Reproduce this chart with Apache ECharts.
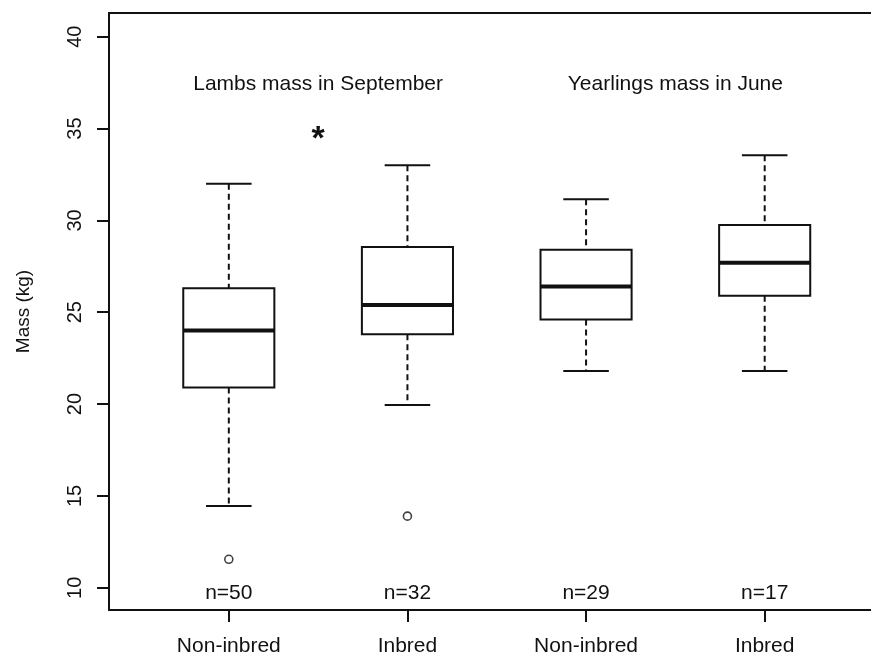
<!DOCTYPE html>
<html><head><meta charset="utf-8">
<script src="https://cdn.jsdelivr.net/npm/echarts@6/dist/echarts.min.js"></script>
<style>html,body{margin:0;padding:0;background:#fff}#c{width:871px;height:658px}</style>
</head><body><div id="c"></div>
<script>
// ---- data ----
const categories = ['Non-inbred', 'Inbred', 'Non-inbred', 'Inbred'];
const whiskerLow  = [14.45, 19.95, 21.8, 21.8];
const q1          = [20.9, 23.8, 24.6, 25.9];
const median      = [24.0, 25.4, 26.4, 27.7];
const q3          = [26.3, 28.55, 28.4, 29.75];
const whiskerHigh = [32.0, 33.0, 31.15, 33.55];
const outliers    = [[0, 11.55], [1, 13.9]];
const nCounts     = [50, 32, 29, 17];
const yTicks      = [10, 15, 20, 25, 30, 35, 40];
const groupTitles = ['Lambs mass in September', 'Yearlings mass in June'];
const yTitle = 'Mass (kg)';

const FONT = '"Liberation Sans", Arial, Helvetica, sans-serif';
const INK = '#111';
const Y_MIN = 8.79, Y_MAX = 41.29;

const boxData = categories.map((c, i) => [i, whiskerLow[i], q1[i], median[i], q3[i], whiskerHigh[i], nCounts[i]]);

function renderBox(params, api) {
  const i = api.value(0);
  const band = api.size([1, 0])[0];
  const cx = api.coord([i, Y_MIN])[0];
  const y = k => api.coord([i, api.value(k)])[1];
  const yLo = y(1), yQ1 = y(2), yMed = y(3), yQ3 = y(4), yHi = y(5);
  const bw = band * 0.51 / 2, cw = band * 0.255 / 2;
  const nPos = api.coord([i, 9.72]);
  const dash = { stroke: INK, lineWidth: 2, lineDash: [6, 4] };
  const solid = { stroke: INK, lineWidth: 2 };
  return { type: 'group', children: [
    { type: 'line', shape: { x1: cx, y1: yHi, x2: cx, y2: yQ3 }, style: dash },
    { type: 'line', shape: { x1: cx, y1: yQ1, x2: cx, y2: yLo }, style: dash },
    { type: 'line', shape: { x1: cx - cw, y1: yHi, x2: cx + cw, y2: yHi }, style: solid },
    { type: 'line', shape: { x1: cx - cw, y1: yLo, x2: cx + cw, y2: yLo }, style: solid },
    { type: 'rect', shape: { x: cx - bw, y: yQ3, width: 2 * bw, height: yQ1 - yQ3 }, style: { fill: '#fff', stroke: INK, lineWidth: 2 } },
    { type: 'line', shape: { x1: cx - bw, y1: yMed, x2: cx + bw, y2: yMed }, style: { stroke: INK, lineWidth: 4 } },
    { type: 'text', style: { text: 'n=' + api.value(6), x: nPos[0], y: nPos[1], align: 'center', verticalAlign: 'middle', fontSize: 21, fontFamily: FONT, fill: INK } }
  ] };
}

function renderNote(params, api) {
  const p = api.coord([api.value(0), api.value(1)]);
  const kind = api.value(2);
  if (kind < 0) {
    return { type: 'text', style: { text: '*', x: p[0], y: p[1] + 9, align: 'center', verticalAlign: 'middle', fontSize: 34, fontWeight: 'bold', fontFamily: FONT, fill: INK } };
  }
  return { type: 'text', style: { text: groupTitles[kind], x: p[0], y: p[1], align: 'center', verticalAlign: 'middle', fontSize: 21, fontFamily: FONT, fill: INK } };
}

const frameLine = { show: true, lineStyle: { color: INK, width: 2 } };

const chart = echarts.init(document.getElementById('c'), null, { renderer: 'canvas' });
chart.setOption({
  animation: false,
  backgroundColor: '#fff',
  grid: [
    { left: 139.5, right: 17, top: 13, bottom: 48, show: false },
    { left: 109, right: 0, top: 13, bottom: 48, show: false }
  ],
  xAxis: [
    { type: 'category', gridIndex: 0, data: categories, boundaryGap: true,
      axisLine: { show: false },
      axisTick: { show: true, alignWithLabel: true, length: 12, lineStyle: { color: INK, width: 2 } },
      axisLabel: { interval: 0, margin: 26, fontSize: 21, fontFamily: FONT, color: INK },
      splitLine: { show: false } },
    { type: 'value', gridIndex: 1, position: 'bottom', min: 0, max: 1,
      axisLine: frameLine, axisTick: { show: false }, axisLabel: { show: false }, splitLine: { show: false } },
    { type: 'value', gridIndex: 0, show: false, min: -0.5, max: 3.5 },
    { type: 'value', gridIndex: 1, position: 'top', min: 0, max: 1,
      axisLine: frameLine, axisTick: { show: false }, axisLabel: { show: false }, splitLine: { show: false } }
  ],
  yAxis: [
    { type: 'value', gridIndex: 0, show: false, min: Y_MIN, max: Y_MAX },
    { type: 'value', gridIndex: 1, min: Y_MIN, max: Y_MAX,
      name: yTitle, nameLocation: 'middle', nameRotate: 90, nameGap: 76,
      nameTextStyle: { fontSize: 19, fontFamily: FONT, color: INK },
      axisLine: frameLine,
      axisTick: { show: true, length: 12, customValues: yTicks, lineStyle: { color: INK, width: 2 } },
      axisLabel: { show: true, rotate: 90, margin: 24, customValues: yTicks, fontSize: 20, fontFamily: FONT, color: INK },
      splitLine: { show: false } }
  ],
  series: [
    { type: 'custom', xAxisIndex: 0, yAxisIndex: 0, renderItem: renderBox, data: boxData, z: 5 },
    { type: 'scatter', xAxisIndex: 0, yAxisIndex: 0, data: outliers, symbol: 'circle', symbolSize: 8,
      itemStyle: { color: '#fff', borderColor: INK, borderWidth: 1.6 }, z: 6 },
    { type: 'custom', xAxisIndex: 2, yAxisIndex: 0, renderItem: renderNote,
      data: [[0.5, 37.42, 0], [2.5, 37.42, 1], [0.5, 34.9, -1]], z: 6 }
  ]
});
</script></body></html>
